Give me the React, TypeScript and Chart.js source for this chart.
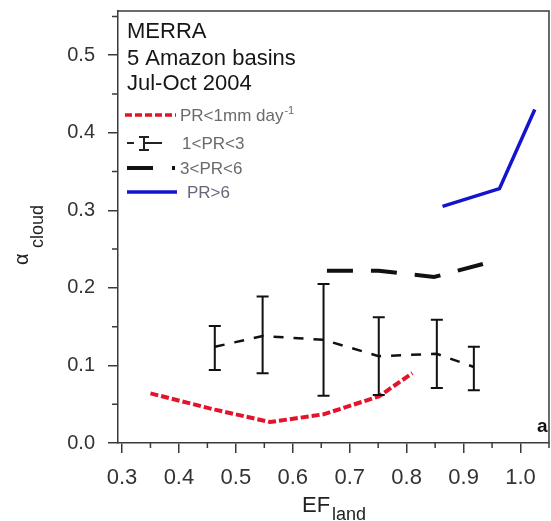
import React, { useEffect, useRef } from "react";
import { Chart, registerables } from "chart.js";

Chart.register(...registerables);

const FONT = 'Arial, "Liberation Sans", sans-serif';

// Axis ticks
const X_TICKS = [0.3, 0.4, 0.5, 0.6, 0.7, 0.8, 0.9, 1.0];
const X_MINOR = [0.35, 0.45, 0.55, 0.65, 0.75, 0.85, 0.95, 1.05];
const Y_TICKS = [0.0, 0.1, 0.2, 0.3, 0.4, 0.5];
const Y_MINOR = [0.05, 0.15, 0.25, 0.35, 0.45, 0.55];

// PR < 1 mm/day
const PR1_X = [0.35, 0.463, 0.56, 0.654, 0.751, 0.81];
const PR1_Y = [0.064, 0.043, 0.027, 0.037, 0.06, 0.09];

// 1 < PR < 3 with spread
const PR13_X = [0.463, 0.547, 0.654, 0.751, 0.853, 0.918];
const PR13_Y = [0.124, 0.138, 0.133, 0.112, 0.115, 0.098];
const PR13_LO = [0.094, 0.09, 0.061, 0.062, 0.071, 0.068];
const PR13_HI = [0.151, 0.189, 0.205, 0.162, 0.159, 0.124];

// 3 < PR < 6
const PR36_X = [0.66, 0.751, 0.848, 0.955];
const PR36_Y = [0.222, 0.222, 0.214, 0.235];

// PR > 6
const PR6_X = [0.863, 0.963, 1.025];
const PR6_Y = [0.305, 0.328, 0.43];

const HEADER = ["MERRA", "5 Amazon basins", "Jul-Oct 2004"];

const pts = (xs: number[], ys: number[]) => xs.map((x, i) => ({ x, y: ys[i] }));

const AXIS_COLOR = "#3a3a3a";

const decorPlugin = {
  id: "decor",
  afterDatasetsDraw(chart: any) {
    const { ctx, scales } = chart;
    const xs = scales.x;
    const ys = scales.y;
    // error bars for 1<PR<3
    ctx.save();
    ctx.strokeStyle = "#111";
    ctx.lineWidth = 2;
    ctx.setLineDash([]);
    PR13_X.forEach((xv, i) => {
      const px = xs.getPixelForValue(xv);
      const lo = ys.getPixelForValue(PR13_LO[i]);
      const hi = ys.getPixelForValue(PR13_HI[i]);
      ctx.beginPath();
      ctx.moveTo(px, lo);
      ctx.lineTo(px, hi);
      ctx.moveTo(px - 6, lo);
      ctx.lineTo(px + 6, lo);
      ctx.moveTo(px - 6, hi);
      ctx.lineTo(px + 6, hi);
      ctx.stroke();
    });
    ctx.restore();
  },
  afterDraw(chart: any) {
    const { ctx, chartArea, scales } = chart;
    const xs = scales.x;
    const ys = scales.y;
    const { left, right, top, bottom } = chartArea;
    ctx.save();
    // frame top and right
    ctx.strokeStyle = AXIS_COLOR;
    ctx.lineWidth = 1.5;
    ctx.beginPath();
    ctx.moveTo(left, top);
    ctx.lineTo(right, top);
    ctx.lineTo(right, bottom);
    ctx.stroke();
    // minor ticks
    ctx.beginPath();
    X_MINOR.forEach((v) => {
      const p = xs.getPixelForValue(v);
      ctx.moveTo(p, bottom);
      ctx.lineTo(p, bottom + 5);
    });
    Y_MINOR.forEach((v) => {
      const p = ys.getPixelForValue(v);
      ctx.moveTo(left, p);
      ctx.lineTo(left - 6, p);
    });
    ctx.stroke();

    // axis titles
    ctx.fillStyle = "#222";
    ctx.textBaseline = "alphabetic";
    ctx.textAlign = "left";
    ctx.font = `22px ${FONT}`;
    ctx.fillText("EF", 302, 512);
    ctx.font = `18px ${FONT}`;
    ctx.fillText("land", 332, 520);

    ctx.save();
    ctx.translate(28, 265);
    ctx.rotate(-Math.PI / 2);
    ctx.font = `20px ${FONT}`;
    ctx.fillText("\u03b1", 0, 0);
    ctx.font = `18px ${FONT}`;
    ctx.fillText("cloud", 17, 15);
    ctx.restore();

    // panel letter
    ctx.font = `bold 19px ${FONT}`;
    ctx.fillStyle = "#111";
    ctx.fillText("a", 537, 432);

    // header text
    ctx.font = `22px ${FONT}`;
    ctx.fillStyle = "#161616";
    const baselines = [38, 65, 90];
    HEADER.forEach((t, i) => ctx.fillText(t, 127, baselines[i]));

    // legend samples
    ctx.lineCap = "butt";
    // red dashed
    ctx.strokeStyle = "#e3132c";
    ctx.lineWidth = 3.5;
    ctx.setLineDash([7, 3]);
    ctx.beginPath();
    ctx.moveTo(125, 115);
    ctx.lineTo(176, 115);
    ctx.stroke();
    // error-bar sample
    ctx.setLineDash([]);
    ctx.strokeStyle = "#222";
    ctx.lineWidth = 2;
    ctx.beginPath();
    ctx.moveTo(127, 143);
    ctx.lineTo(134, 143);
    ctx.moveTo(151, 143);
    ctx.lineTo(162, 143);
    ctx.moveTo(144, 137);
    ctx.lineTo(144, 150);
    ctx.moveTo(139, 137);
    ctx.lineTo(149, 137);
    ctx.moveTo(139, 150);
    ctx.lineTo(149, 150);
    ctx.moveTo(144, 143);
    ctx.lineTo(151, 143);
    ctx.stroke();
    // thick black dash
    ctx.strokeStyle = "#111";
    ctx.lineWidth = 4;
    ctx.beginPath();
    ctx.moveTo(127, 168);
    ctx.lineTo(153, 168);
    ctx.moveTo(172, 168);
    ctx.lineTo(175, 168);
    ctx.stroke();
    // blue
    ctx.strokeStyle = "#1414cf";
    ctx.lineWidth = 3.5;
    ctx.beginPath();
    ctx.moveTo(127, 192);
    ctx.lineTo(177, 192);
    ctx.stroke();

    // legend labels
    ctx.font = `17px ${FONT}`;
    ctx.fillStyle = "#6a6a6a";
    ctx.fillText("PR<1mm day", 180, 121);
    const w = ctx.measureText("PR<1mm day").width;
    ctx.font = `11px ${FONT}`;
    ctx.fillText("-1", 180 + w + 1, 114);
    ctx.font = `17px ${FONT}`;
    ctx.fillText("1<PR<3", 182, 149);
    ctx.fillText("3<PR<6", 180, 174);
    ctx.fillStyle = "#66667a";
    ctx.fillText("PR>6", 187, 198);
    ctx.restore();
  },
};

export default function App() {
  const ref = useRef<HTMLCanvasElement | null>(null);

  useEffect(() => {
    if (!ref.current) return;
    const chart = new Chart(ref.current, {
      type: "line",
      data: {
        datasets: [
          {
            label: "PR<1mm day-1",
            data: pts(PR1_X, PR1_Y),
            borderColor: "#e3132c",
            borderWidth: 4,
            borderDash: [8, 3],
            pointRadius: 0,
            tension: 0,
          },
          {
            label: "1<PR<3",
            data: pts(PR13_X, PR13_Y),
            borderColor: "#111",
            borderWidth: 2.5,
            borderDash: [10, 10],
            pointRadius: 0,
          },
          {
            label: "3<PR<6",
            data: pts(PR36_X, PR36_Y),
            borderColor: "#111",
            borderWidth: 4,
            borderDash: [26, 18],
            pointRadius: 0,
          },
          {
            label: "PR>6",
            data: pts(PR6_X, PR6_Y),
            borderColor: "#1414cf",
            borderWidth: 3.5,
            pointRadius: 0,
          },
        ],
      },
      options: {
        animation: false,
        responsive: false,
        devicePixelRatio: 1,
        layout: { padding: { top: 11, right: 2, left: 0, bottom: 0 } },
        plugins: { legend: { display: false }, tooltip: { enabled: false } },
        scales: {
          x: {
            type: "linear",
            min: 0.293,
            max: 1.05,
            afterBuildTicks: (s: any) => {
              s.ticks = X_TICKS.map((value) => ({ value }));
            },
            afterFit: (s: any) => {
              s.height = 78;
              s.paddingLeft = 0;
              s.paddingRight = 0;
            },
            ticks: {
              autoSkip: false,
              maxRotation: 0,
              padding: 12,
              color: "#333",
              font: { family: FONT, size: 22 },
              callback: (v: any) => Number(v).toFixed(1),
            },
            grid: {
              drawOnChartArea: false,
              drawTicks: true,
              tickLength: 10,
              color: AXIS_COLOR,
              lineWidth: 1.5,
            },
            border: { color: AXIS_COLOR, width: 1.5 },
          },
          y: {
            type: "linear",
            min: 0,
            max: 0.557,
            afterBuildTicks: (s: any) => {
              s.ticks = Y_TICKS.map((value) => ({ value }));
            },
            afterFit: (s: any) => {
              s.width = 118;
              s.paddingTop = 0;
              s.paddingBottom = 0;
            },
            ticks: {
              autoSkip: false,
              padding: 13,
              color: "#333",
              font: { family: FONT, size: 20 },
              callback: (v: any) => Number(v).toFixed(1),
            },
            grid: {
              drawOnChartArea: false,
              drawTicks: true,
              tickLength: 10,
              color: AXIS_COLOR,
              lineWidth: 1.5,
            },
            border: { color: AXIS_COLOR, width: 1.5 },
          },
        },
      },
      plugins: [decorPlugin],
    });
    return () => chart.destroy();
  }, []);

  return (
    <div style={{ position: "fixed", left: 0, top: 0, width: 551, height: 521, background: "#fff" }}>
      <canvas ref={ref} width={551} height={521} style={{ display: "block" }} />
    </div>
  );
}
